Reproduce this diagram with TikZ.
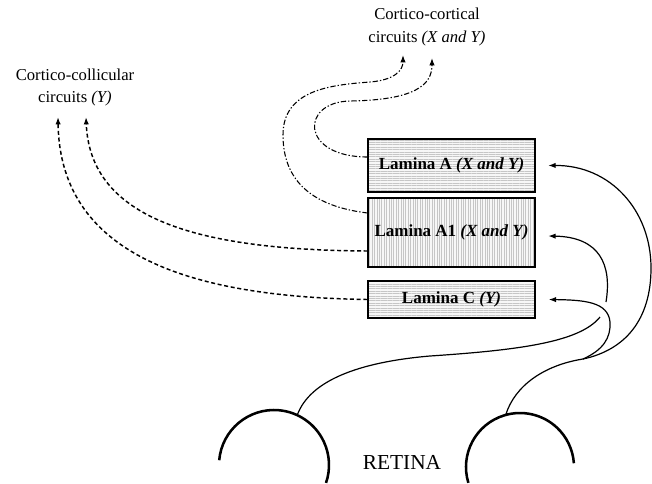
\documentclass[tikz,border=0pt]{standalone}
\usepackage{fontspec}
\setmainfont{Liberation Serif}
\usetikzlibrary{patterns.meta,arrows.meta,calc}
\begin{document}
\begin{tikzpicture}[x=0.75pt,y=-0.75pt,
  lam/.style={draw=black,line width=1.1pt,inner sep=0pt,minimum width=125.25pt,
    font=\fontsize{12.75}{14}\selectfont\bfseries},
  hpat/.style={preaction={fill=gray!6},pattern={Lines[angle=0,distance=1.8pt,line width=0.4pt]},pattern color=gray!45},
  vpat/.style={preaction={fill=gray!6},pattern={Lines[angle=90,distance=1.8pt,line width=0.4pt]},pattern color=gray!45},
  lbl/.style={align=center,inner sep=0pt,font=\fontsize{12.5}{17}\selectfont},
  fib/.style={line width=0.9pt,-{Latex[length=5.5pt,width=4pt]}},
  fibplain/.style={line width=0.9pt},
  coll/.style={line width=1.1pt,dash pattern=on 3pt off 2pt,-{Latex[length=5.5pt,width=4pt]}},
  cort/.style={line width=0.8pt,dash pattern=on 4pt off 1.5pt on 1pt off 1.5pt,-{Latex[length=5.5pt,width=4pt]}},
  eye/.style={line width=1.9pt},
]
\useasboundingbox (0,0) rectangle (652,483);

% laminae
\node[lam,hpat,minimum height=39.75pt] (A) at (451.5,165.5) {Lamina A \textit{(X and Y)}};
\node[lam,vpat,minimum height=51.75pt] (A1) at (451.5,232.5) {Lamina A1 \textit{(X and Y)}};
\node[lam,hpat,minimum height=27.75pt] (C) at (451.5,299.5) {Lamina C \textit{(Y)}};

% labels
\node[lbl] (cc) at (427,27) {Cortico-cortical\\circuits \textit{(X and Y)}};
\node[lbl] (col) at (75,87.5) {Cortico-collicular\\circuits \textit{(Y)}};
\node[inner sep=0pt,font=\fontsize{16}{18}\selectfont] (ret) at (402,462) {RETINA};

% retina arcs
\draw[eye] (274,465) ++(185:55) arc[start angle=185,end angle=379,radius=55];
\draw[eye] (520,467) ++(163:54) arc[start angle=163,end angle=356,radius=54];

\coordinate (rl) at (297.2,415.2);
\coordinate (rr) at (505.7,414.9);
\coordinate (split) at (583,359);
\coordinate (gapL) at (600,317);
\coordinate (gapR) at (606,302);

% targets
\coordinate (Ain) at ($(A.east)+(13,0)$);
\coordinate (A1in) at ($(A1.east)+(13,3.5)$);
\coordinate (Cin) at ($(C.east)+(13,0)$);

% retinal fibres
\draw[fibplain] (rr) .. controls (515,385) and (545,365) .. (split);
\draw[fib] (split) .. controls (625,350) and (651,320) .. (651,268)
                   .. controls (651,210) and (610,165) .. (Ain);
\draw[fib] (split) .. controls (603,350) and (611,338) .. (610,322)
                   .. controls (608,302) and (585,300) .. (Cin);
\draw[fibplain] (rl) .. controls (310,380) and (360,362) .. (430,356)
                    .. controls (520,350) and (580,342) .. (gapL);
\draw[fib] (gapR) .. controls (612,265) and (600,237) .. (A1in);

% cortico-collicular
\draw[coll] ($(A1.west)+(0,18.5)$) .. controls (200,250) and (90,220) .. (86,117);
\draw[coll] (C.west) .. controls (200,297) and (60,260) .. (58,117);

% cortico-cortical
\draw[cort] ($(A.west)+(0,-8.5)$) .. controls (300,157) and (300,102) .. (350,101)
            .. controls (415,100) and (432,85) .. (432,58);
\draw[cort] ($(A1.west)+(0,-19.5)$) .. controls (300,205) and (283,170) .. (283,135)
            .. controls (283,90) and (330,85) .. (370,82)
            .. controls (395,80) and (403,70) .. (403,55);
\end{tikzpicture}
\end{document}
